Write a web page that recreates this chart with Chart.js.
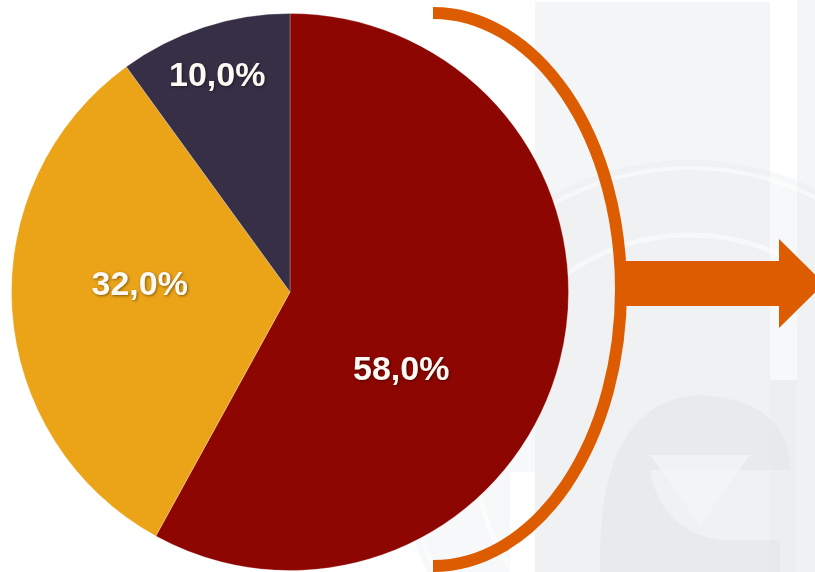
<!DOCTYPE html>
<html>
<head>
<meta charset="utf-8">
<script src="https://cdn.jsdelivr.net/npm/chart.js@4/dist/chart.umd.min.js"></script>
<style>
  html, body { margin: 0; padding: 0; background: #ffffff; }
  body { width: 815px; height: 572px; position: relative; overflow: hidden; }
  #bg { position: absolute; left: 0; top: 0; }
  #wrap { position: absolute; left: 11px; top: 13px; width: 558px; height: 558px; }
</style>
</head>
<body>
<svg id="bg" width="815" height="572" viewBox="0 0 815 572">
  <!-- faint watermark panels -->
  <rect x="535" y="2" width="235" height="570" fill="#f4f5f7"/>
  <rect x="797" y="0" width="18" height="572" fill="#f4f5f7"/>
  <rect x="770" y="380" width="27" height="192" fill="#f0f1f3"/>
  <circle cx="690" cy="450" r="290" fill="#e6e7ea" opacity="0.3"/>
  <circle cx="690" cy="450" r="282" fill="none" stroke="#ffffff" stroke-width="4" opacity="0.5"/>
  <circle cx="690" cy="450" r="215" fill="none" stroke="#ffffff" stroke-width="5" opacity="0.5"/>
  <rect x="510" y="472" width="25" height="100" fill="#ffffff"/>
  <path d="M 600 560 Q 600 400 700 395 Q 790 400 790 470 L 650 470 Q 660 530 720 540 L 780 540 L 780 572 L 600 572 Z" fill="#e2e3e6" opacity="0.45"/>
  <path d="M 650 455 L 700 525 L 750 455 Z" fill="#f4f5f7" opacity="0.7"/>
  <!-- orange bracket arc -->
  <path d="M 433 13 A 188 276.5 0 0 1 433 566" fill="none" stroke="#dd5c00" stroke-width="12"/>
  <!-- arrow -->
  <polygon points="617,261 779,261 779,239 824,283.5 779,328 779,306 617,306" fill="#dd5c00"/>
</svg>
<div id="wrap"><canvas id="c"></canvas></div>
<script>
const categories = ["Grupo A", "Grupo B", "Grupo C"];
const values = [58.0, 32.0, 10.0];
const colors = ["#8e0602", "#eba418", "#372f45"];

// label placement per slice: [angle offset from mid-angle in degrees, fraction of radius]
const labelPlacement = [[21, 0.49], [6, 0.54], [-0.7, 0.815]];

const sliceLabels = {
  id: 'sliceLabels',
  afterDatasetsDraw(chart) {
    const ctx = chart.ctx;
    const meta = chart.getDatasetMeta(0);
    ctx.save();
    ctx.font = 'bold 34px "Liberation Sans", Arial, sans-serif';
    ctx.textAlign = 'center';
    ctx.textBaseline = 'middle';
    ctx.fillStyle = '#fdfaf5';
    ctx.shadowColor = 'rgba(0,0,0,0.45)';
    ctx.shadowBlur = 3;
    ctx.shadowOffsetX = 1;
    ctx.shadowOffsetY = 1;
    meta.data.forEach((arc, i) => {
      const p = arc.getProps(['x', 'y', 'startAngle', 'endAngle', 'outerRadius'], true);
      const pl = labelPlacement[i];
      const a = (p.startAngle + p.endAngle) / 2 + pl[0] * Math.PI / 180;
      const r = p.outerRadius * pl[1];
      const txt = values[i].toFixed(1).replace('.', ',') + '%';
      ctx.fillText(txt, p.x + Math.cos(a) * r, p.y + Math.sin(a) * r);
    });
    ctx.restore();
  }
};

new Chart(document.getElementById('c'), {
  type: 'pie',
  data: {
    labels: categories,
    datasets: [{
      data: values,
      backgroundColor: colors,
      borderColor: 'rgba(255,255,255,0.25)',
      borderWidth: 1
    }]
  },
  options: {
    responsive: true,
    maintainAspectRatio: false,
    animation: false,
    layout: { padding: 0 },
    plugins: {
      legend: { display: false },
      tooltip: { enabled: false }
    }
  },
  plugins: [sliceLabels]
});
</script>
</body>
</html>
